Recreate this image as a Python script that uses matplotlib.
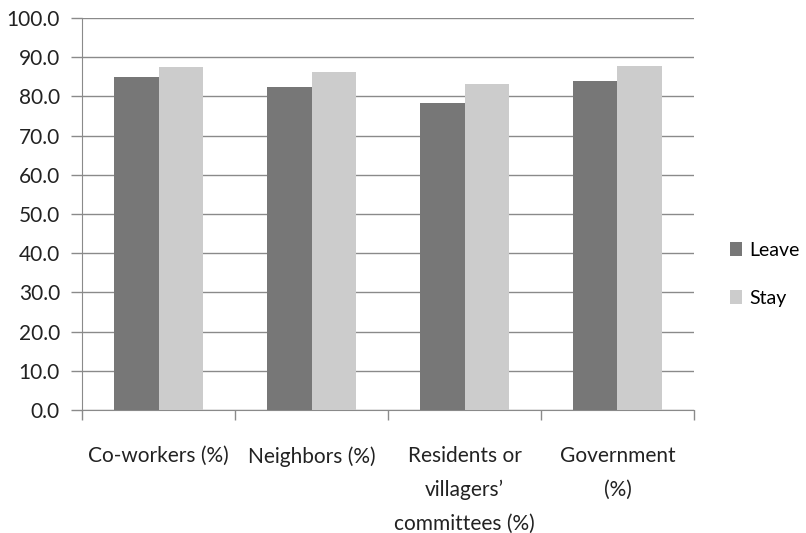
import numpy as np
import matplotlib.pyplot as plt

categories = ["Co-workers (%)", "Neighbors (%)", "Residents or\nvillagers\u2019\ncommittees (%)", "Government\n(%)"]
leave = [85.0, 82.3, 78.4, 83.9]
stay = [87.5, 86.2, 83.2, 87.8]
series_names = ["Leave", "Stay"]
yticks = np.arange(0, 101, 10)

plt.rcParams['font.family'] = ['Lato', 'DejaVu Sans']

fig = plt.figure(figsize=(8.06, 5.33), dpi=100)
ax = fig.add_axes([0.102, 0.231, 0.759, 0.735])

x = np.arange(len(categories))
w = 0.29
ax.bar(x - w / 2, leave, w, color='#777777', label=series_names[0], zorder=3)
ax.bar(x + w / 2, stay, w, color='#cccccc', label=series_names[1], zorder=3)

ax.set_xlim(-0.5, len(categories) - 0.5)
ax.set_ylim(0, 100)
ax.set_yticks(yticks)
ax.set_yticklabels([f"{v:.1f}" for v in yticks], fontsize=15, color='#222222')
ax.yaxis.grid(True, color='#8a8a8a', linewidth=1.0, zorder=0)
ax.set_axisbelow(True)

# labels centred in categories, tick marks on category boundaries
ax.set_xticks(x)
ax.set_xticklabels(categories, fontsize=15, color='#222222', linespacing=1.85, va='top')
ax.tick_params(axis='x', which='major', length=0, pad=26)
ax.set_xticks(np.arange(-0.5, len(categories)), minor=True)
ax.tick_params(axis='x', which='minor', length=7, color='#8a8a8a', width=1)
ax.tick_params(axis='y', length=8, color='#8a8a8a', width=1, pad=8)

for s in ['top', 'right']:
    ax.spines[s].set_visible(False)
for s in ['left', 'bottom']:
    ax.spines[s].set_color('#8a8a8a')

ax.legend(loc='center left', bbox_to_anchor=(1.059, 0.346), frameon=False, fontsize=14,
          handlelength=0.62, handleheight=0.7, labelspacing=1.6, handletextpad=0.36,
          borderaxespad=0, borderpad=0)

fig.savefig('out.png', dpi=100)
